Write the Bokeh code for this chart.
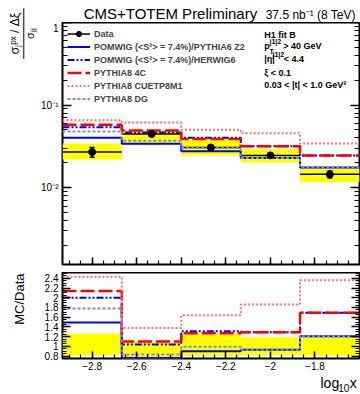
import numpy as np
from bokeh.plotting import figure
from bokeh.layouts import column, row
from bokeh.models import Range1d, FixedTicker, LinearAxis, LogAxis, Label, Legend, LegendItem
from bokeh.embed import file_html
from bokeh.resources import INLINE

# ---------------- data ----------------
bin_edges = [-2.933, -2.667, -2.4, -2.133, -1.867, -1.6]
bin_centers = [-2.8, -2.533, -2.267, -2.0, -1.733]
data_xsec = [0.0270, 0.0447, 0.0307, 0.0246, 0.0145]
data_stat = [0.0036, 0.0020, 0.0015, 0.0012, 0.0014]
syst_low = [0.0220, 0.0332, 0.0246, 0.0200, 0.0117]
syst_high = [0.0342, 0.0495, 0.0388, 0.0292, 0.0175]

ratio_pomwig_z2 = [1.49, 0.76, 0.90, 0.93, 1.21]
ratio_pomwig_herwig = [2.00, 1.04, 1.31, 1.29, 1.69]
ratio_p8_4c = [2.14, 1.10, 1.27, 1.29, 1.69]
ratio_p8_cuetp8m1 = [2.43, 1.38, 1.64, 1.86, 2.36]
ratio_p8_dg = [1.78, 0.83, 0.99, 0.93, 1.21]

series_labels = ["POMWIG (<S²> = 7.4%)/PYTHIA6 Z2",
                 "POMWIG (<S²> = 7.4%)/HERWIG6",
                 "PYTHIA8 4C",
                 "PYTHIA8 CUETP8M1",
                 "PYTHIA8 DG"]

x_ticks = [-2.8, -2.6, -2.4, -2.2, -2.0, -1.8]
x_tick_labels = ["\u22122.8", "\u22122.6", "\u22122.4", "\u22122.2", "\u22122", "\u22121.8"]
top_y_ticks = [0.01, 0.1, 1.0]
top_y_tick_labels = ["10\u207b\u00b2", "10\u207b\u00b9", "1"]
ratio_ticks = [0.8, 1.0, 1.2, 1.4, 1.6, 1.8, 2.0, 2.2, 2.4]
ratio_tick_labels = ["0.8", "1", "1.2", "1.4", "1.6", "1.8", "2", "2.2", "2.4"]

X_LO, X_HI = bin_edges[0], bin_edges[-1]
TOP_LOG_LO, TOP_LOG_HI = -2.93, 0.0
R_LO, R_HI = 0.75, 2.52

# ---------------- layout (page pixels) ----------------
W, H = 360, 394
LEFT_W = 38            # strip holding the rotated axis titles
FL, FW = 61, 297       # frame left / width
HEAD_H = 22            # strip above the top frame
TOP_FH, TOP_GAP = 242, 8
LOW_FH, LOW_BB = 86, 16
FOOT_H = H - HEAD_H - TOP_FH - TOP_GAP - LOW_FH - LOW_BB
MAIN_W = W - LEFT_W
FONT = "Liberation Sans"

def step_y(vals):
    return list(vals) + [vals[-1]]

styles = [dict(line_color="#0000ff", line_width=2),
          dict(line_color="#0000ff", line_width=2, line_dash="7 2 2 2 2 2"),
          dict(line_color="#ff0000", line_width=2.5, line_dash="14 4"),
          dict(line_color="#ff7070", line_width=2, line_dash="2 2"),
          dict(line_color="#7090e0", line_width=2, line_dash="3 2")]
ratios = [ratio_pomwig_z2, ratio_pomwig_herwig, ratio_p8_4c, ratio_p8_cuetp8m1, ratio_p8_dg]

def style_axis(ax, labels, fs="10px", standoff=4, major=8, minor=4):
    ax.axis_line_color = None
    ax.major_tick_in = major
    ax.major_tick_out = 0
    ax.minor_tick_in = minor
    ax.minor_tick_out = 0
    ax.major_tick_line_width = 1.5
    ax.minor_tick_line_width = 1.2
    ax.major_tick_line_color = "black"
    ax.minor_tick_line_color = "black"
    if labels:
        ax.major_label_text_font = FONT
        ax.major_label_text_font_size = fs
        ax.major_label_text_color = "black"
        ax.major_label_standoff = standoff
    else:
        ax.major_label_text_font_size = "1px"
        ax.major_label_text_alpha = 0
        ax.major_label_standoff = 0

def frame_style(f):
    f.xgrid.visible = False
    f.ygrid.visible = False
    f.outline_line_color = "black"
    f.outline_line_width = 2
    f.background_fill_color = "white"
    f.border_fill_color = "white"

def blank(w, h, x0, x1, y0, y1):
    f = figure(width=w, height=h, x_range=Range1d(x0, x1), y_range=Range1d(y1, y0),
               output_backend="svg", toolbar_location=None,
               x_axis_location=None, y_axis_location=None,
               min_border_left=0, min_border_right=0, min_border_top=0, min_border_bottom=0)
    f.xgrid.visible = False
    f.ygrid.visible = False
    f.outline_line_color = None
    f.background_fill_color = "white"
    f.border_fill_color = "white"
    return f

def lab(fig, x, y, text, size, **kw):
    params = dict(text_font=FONT, text_font_size=size, text_color="black",
                  text_baseline="middle")
    params.update(kw)
    fig.add_layout(Label(x=x, y=y, text=text, **params))

minor_log = [m * 10.0 ** e for e in (-3, -2, -1) for m in range(2, 10)]
minor_x = [round(v, 3) for v in np.arange(-2.95, -1.59, 0.05)]
minor_r = [round(v, 3) for v in np.arange(0.75, 2.51, 0.05)]

xr = Range1d(X_LO, X_HI)

# ---------------- top panel ----------------
p = figure(frame_width=FW, frame_height=TOP_FH, x_range=xr,
           y_range=Range1d(10 ** TOP_LOG_LO, 10 ** TOP_LOG_HI), y_axis_type="log",
           output_backend="svg", toolbar_location=None,
           min_border_left=FL - LEFT_W, min_border_right=MAIN_W - (FL - LEFT_W) - FW,
           min_border_top=0, min_border_bottom=TOP_GAP)
frame_style(p)

p.xaxis.ticker = FixedTicker(ticks=x_ticks, minor_ticks=minor_x)
style_axis(p.xaxis[0], False, major=7, minor=4)
p.yaxis.ticker = FixedTicker(ticks=top_y_ticks, minor_ticks=minor_log)
p.yaxis.major_label_overrides = dict(zip(top_y_ticks, top_y_tick_labels))
style_axis(p.yaxis[0], True, fs="10px", standoff=4, major=9, minor=5)
ra = LogAxis(ticker=FixedTicker(ticks=top_y_ticks, minor_ticks=minor_log))
style_axis(ra, False, major=9, minor=5)
p.add_layout(ra, "right")

p.quad(left=bin_edges[:-1], right=bin_edges[1:], bottom=syst_low, top=syst_high,
       fill_color="#ffff00", line_color=None)
hseg = p.segment(x0=bin_edges[:-1], y0=data_xsec, x1=bin_edges[1:], y1=data_xsec,
                 line_color="black", line_width=1.5)
mc_renderers = []
for rat, st in zip(ratios, styles):
    vals = [r * d for r, d in zip(rat, data_xsec)]
    mc_renderers.append(p.step(x=bin_edges, y=step_y(vals), mode="after", **st))
lo = [d - e for d, e in zip(data_xsec, data_stat)]
hi = [d + e for d, e in zip(data_xsec, data_stat)]
p.segment(x0=bin_centers, y0=lo, x1=bin_centers, y1=hi, line_color="black", line_width=1.5)
p.scatter(x=bin_centers + bin_centers, y=lo + hi, marker="dash", size=5,
          line_color="black", line_width=1.5)
pts = p.scatter(x=bin_centers, y=data_xsec, marker="circle", size=7,
                fill_color="black", line_color="black")

items = [LegendItem(label="Data", renderers=[hseg, pts])]
for lab_, r in zip(series_labels, mc_renderers):
    items.append(LegendItem(label=lab_, renderers=[r]))
leg = Legend(items=items, location="top_left", margin=0, padding=5,
             glyph_width=23, glyph_height=13, label_height=13, spacing=0, label_standoff=4,
             label_text_font=FONT, label_text_font_style="bold", label_text_font_size="9px",
             background_fill_alpha=0, border_line_alpha=0)
p.add_layout(leg)

# selection text inside the top frame (positions given in page pixels)
def xd(px):
    return X_LO + (px - FL) / FW * (X_HI - X_LO)

def ytop(py):
    return 10 ** (TOP_LOG_HI - (py - HEAD_H) / TOP_FH * (TOP_LOG_HI - TOP_LOG_LO))

B = dict(text_font_style="bold")
lab(p, xd(262.7), ytop(34.5), "H1 fit B", "9px", **B)
lab(p, xd(262.7), ytop(45.5), "p", "9px", **B)
lab(p, xd(268.0), ytop(40.5), "j1|2", "7px", **B)
lab(p, xd(268.0), ytop(50.5), "T", "7px", **B)
lab(p, xd(281.7), ytop(45.5), "> 40 GeV", "9px", **B)
lab(p, xd(262.7), ytop(58.5), "|\u03b7|", "9px", **B)
lab(p, xd(271.0), ytop(54.0), "j1|2", "7px", **B)
lab(p, xd(282.3), ytop(58.5), "< 4.4", "9px", **B)
lab(p, xd(262.7), ytop(72.0), "\u03be < 0.1", "9px", **B)
lab(p, xd(262.7), ytop(84.0), "0.03 < |t| < 1.0 GeV\u00b2", "9px", **B)

# ---------------- ratio panel ----------------
q = figure(frame_width=FW, frame_height=LOW_FH, x_range=xr, y_range=Range1d(R_LO, R_HI),
           output_backend="svg", toolbar_location=None,
           min_border_left=FL - LEFT_W, min_border_right=MAIN_W - (FL - LEFT_W) - FW,
           min_border_top=0, min_border_bottom=LOW_BB)
frame_style(q)

q.xaxis.ticker = FixedTicker(ticks=x_ticks, minor_ticks=minor_x)
q.xaxis.major_label_overrides = dict(zip(x_ticks, x_tick_labels))
style_axis(q.xaxis[0], True, fs="10px", standoff=3, major=7, minor=4)
q.yaxis.ticker = FixedTicker(ticks=ratio_ticks, minor_ticks=minor_r)
q.yaxis.major_label_overrides = dict(zip(ratio_ticks, ratio_tick_labels))
style_axis(q.yaxis[0], True, fs="10px", standoff=4, major=8, minor=4)
ra2 = LinearAxis(ticker=FixedTicker(ticks=ratio_ticks, minor_ticks=minor_r))
style_axis(ra2, False, major=8, minor=4)
q.add_layout(ra2, "right")

q.quad(left=bin_edges[:-1], right=bin_edges[1:],
       bottom=[l / d for l, d in zip(syst_low, data_xsec)],
       top=[h / d for h, d in zip(syst_high, data_xsec)],
       fill_color="#ffff00", line_color=None)
for rat, st in zip(ratios, styles):
    q.step(x=bin_edges, y=step_y(rat), mode="after", **st)

# ---------------- text strips (data units = page pixels) ----------------
head = blank(MAIN_W, HEAD_H, LEFT_W, W, 0, HEAD_H)
lab(head, 61, 12.5, "CMS+TOTEM Preliminary", "15px")
lab(head, 357, 14.0, "37.5 nb\u207b\u00b9 (8 TeV)", "12px", text_align="right")

foot_top = H - FOOT_H
foot = blank(MAIN_W, FOOT_H, LEFT_W, W, foot_top, H)
lab(foot, 339, 382, "log", "14px", text_align="right")
lab(foot, 350, 387.5, "10", "10px", text_align="right")
lab(foot, 358, 382, "x", "14px", text_align="right")

left = blank(LEFT_W, H, 0, LEFT_W, 0, H)
ang = np.pi / 2
lab(left, 14, 33, "\u03c3\u2c7c\u1d56\u02e3 / \u0394\u03be", "12px",
    angle=ang, text_align="center")
lab(left, 23, 33, "\u2500\u2500\u2500\u2500\u2500\u2500\u2500", "12px",
    angle=ang, text_align="center", text_font="DejaVu Sans Mono")
lab(left, 29, 33, "\u03c3\u2c7c\u2c7c", "11px", angle=ang, text_align="center")
lab(left, 18.5, 273, "MC/Data", "13px", angle=ang, text_align="right")

layout = row(left, column(head, p, q, foot))
open("out.html", "w").write(file_html(layout, INLINE))
